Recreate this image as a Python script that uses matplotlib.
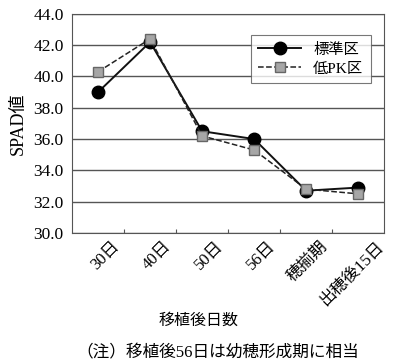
import matplotlib.pyplot as plt

plt.rcParams['font.family'] = ['Liberation Serif', 'Noto Sans CJK JP']

# データ
categories = ['30日', '40日', '50日', '56日', '穂揃期', '出穂後15日']
hyojun = [39.0, 42.2, 36.5, 36.0, 32.7, 32.9]
low_pk = [40.3, 42.4, 36.2, 35.3, 32.8, 32.5]
yticks = [30.0, 32.0, 34.0, 36.0, 38.0, 40.0, 42.0, 44.0]

fig = plt.figure(figsize=(3.94, 3.64), dpi=100)
ax = fig.add_axes([0.183, 0.360, 0.792, 0.602])

x = range(len(categories))
ax.plot(x, hyojun, '-', color='#111111', lw=1.4, marker='o', ms=9,
        mfc='black', mec='black', label='標準区', zorder=3)
ax.plot(x, low_pk, '--', color='#222222', lw=1.1, marker='s', ms=6.5,
        mfc='#a6a6a6', mec='#666666', label='低PK区', zorder=4)

ax.set_xlim(-0.5, len(categories) - 0.5)
ax.set_ylim(30, 44)
ax.set_yticks(yticks)
ax.set_yticklabels([f'{v:.1f}' for v in yticks], fontsize=12.5)
ax.yaxis.grid(True, color='#555555', lw=1.0)
ax.set_axisbelow(True)
ax.tick_params(axis='y', length=0, pad=6)

# 目盛りはカテゴリの境界
ax.set_xticks([i + 0.5 for i in range(len(categories) - 1)])
ax.set_xticklabels([])
ax.tick_params(axis='x', direction='in', length=3, color='#555555')
for i, c in enumerate(categories):
    ax.text(i + 0.22 + 0.03 * (len(c) - 2), 29.65, c, rotation=45,
            ha='right', va='top', fontsize=12, rotation_mode='anchor')

for s in ax.spines.values():
    s.set_color('#555555')

ax.set_ylabel('SPAD値', fontsize=13, labelpad=5)

leg = ax.legend(loc='upper right', bbox_to_anchor=(0.958, 0.904), fontsize=11,
                frameon=True, fancybox=False, handlelength=2.8,
                borderpad=0.5, labelspacing=0.35, borderaxespad=0)
leg.get_frame().set_edgecolor('#555555')
leg.get_frame().set_linewidth(0.8)

fig.text(0.503, 0.12, '移植後日数', ha='center', va='center', fontsize=11.5)
fig.text(0.553, 0.03, '（注）移植後56日は幼穂形成期に相当', ha='center',
         va='center', fontsize=12)

fig.savefig('out.png', dpi=100)
